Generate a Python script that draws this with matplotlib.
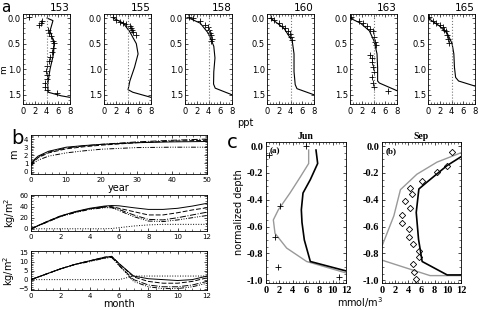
import matplotlib
matplotlib.use("Agg")
import matplotlib.pyplot as plt
from matplotlib.ticker import AutoMinorLocator

# ---- panel a: salinity profiles (ppt vs m) ----
days = ['153', '155', '158', '160', '163', '165']

line_depth = [
    [0, 0.05, 0.25, 0.5, 0.7, 1.0, 1.3, 1.45, 1.52, 1.55],
    [0, 0.1, 0.27, 0.5, 0.7, 0.96, 1.23, 1.4, 1.45, 1.55],
    [0, 0.1, 0.3, 0.55, 0.78, 1.05, 1.29, 1.37, 1.5],
    [0, 0.2, 0.45, 0.7, 1.05, 1.3, 1.38, 1.5],
    [0, 0.1, 0.25, 0.45, 0.7, 0.97, 1.23, 1.27, 1.42],
    [0, 0.15, 0.3, 0.5, 0.7, 0.96, 1.16, 1.23, 1.33],
]
line_sal = [
    [4.1, 5.1, 4.6, 5.3, 5.2, 4.6, 4.2, 4.3, 6.5, 8],
    [1.6, 3.3, 4.4, 5.5, 5.8, 5.2, 4.4, 4.1, 4.9, 8],
    [0.7, 2.6, 4.0, 4.9, 5.1, 4.9, 4.86, 5.14, 8],
    [0.6, 2.9, 4.3, 4.6, 4.6, 4.8, 5.1, 8],
    [0, 1.8, 3.3, 4.1, 4.6, 4.7, 4.7, 5.0, 8],
    [0, 1.9, 3.3, 4.1, 4.4, 4.5, 4.7, 5.2, 8],
]
obs_depth = [
    [-0.02, 0.13, 0.10, 0.05, 0.24, 0.30, 0.35, 0.44, 0.48, 0.59, 0.66, 0.76, 0.84,
     0.93, 1.04, 1.12, 1.19, 1.26, 1.34, 1.41, 1.47],
    [-0.02, 0.03, 0.07, 0.10, 0.11, 0.15, 0.20, 0.24, 0.28, 0.33],
    [-0.02, 0, 0.05, 0.13, 0.17, 0.23, 0.30, 0.33, 0.40, 0.44],
    [0, 0.03, 0.09, 0.15, 0.20, 0.26, 0.31, 0.36, 0.42],
    [-0.03, 0.05, 0.10, 0.15, 0.22, 0.26, 0.36, 0.46, 0.53, 0.73, 0.79, 0.86, 0.96,
     1.06, 1.16, 1.26, 1.35, 1.42],
    [-0.02, 0.05, 0.09, 0.13, 0.17, 0.23, 0.26, 0.33, 0.40, 0.48],
]
obs_sal = [
    [1.03, 2.74, 3.14, 3.31, 4.29, 4.46, 4.69, 5.14, 5.31, 5.14, 4.86, 4.57, 4.46,
     4.0, 3.89, 4.11, 4.0, 3.71, 3.71, 4.17, 5.71],
    [1.56, 2.1, 2.7, 3.2, 3.7, 4.4, 4.6, 4.8, 5.0, 5.5],
    [0.74, 1.43, 2.57, 3.43, 3.83, 4.17, 4.29, 4.46, 4.57, 4.46],
    [0.69, 1.26, 2.0, 2.57, 3.14, 3.54, 3.89, 4.11, 4.29],
    [0.1, 1.48, 2.25, 2.96, 3.43, 3.85, 4.0, 4.26, 4.44, 3.43, 3.73, 3.67, 3.85,
     4.0, 3.73, 3.85, 4.0, 6.5],
    [0.17, 0.83, 1.38, 2.04, 2.49, 2.76, 3.04, 3.15, 3.48, 3.59],
]
ref_sal = 4.0

# ---- panel b ----
years = [0, 1, 2, 5, 10, 15, 20, 25, 30, 40, 50]
thick_solid = [0.9, 1.5, 1.9, 2.5, 3.0, 3.2, 3.35, 3.45, 3.55, 3.65, 3.7]
thick_dash = [0.8, 1.3, 1.7, 2.3, 2.8, 3.05, 3.25, 3.4, 3.55, 3.75, 3.85]
thick_dashdot = [1.0, 1.4, 1.8, 2.4, 2.9, 3.15, 3.35, 3.5, 3.65, 3.85, 4.0]
thick_dash3dot = [0.7, 1.1, 1.4, 1.9, 2.3, 2.55, 2.75, 2.85, 2.95, 3.0, 3.0]

months = [0, 1, 2, 3, 4, 5, 5.5, 6, 7, 8, 9, 10, 11, 12]
mass_solid = [0, 12, 23, 31, 37, 41, 42, 41.5, 38, 35, 35, 37, 41, 46]
mass_dash = [0, 12, 23, 30, 36, 40, 40, 37, 31, 25, 25, 29, 34, 38]
mass_dashdot = [0, 11, 22, 30, 36, 39, 39, 35, 25, 17, 16, 20, 25, 30]
mass_dash3dot = [0, 11, 22, 29, 35, 38, 38, 33, 22, 14, 13, 16, 20, 24]
mass_dot = [0, 0, 0, 0, 0, 0, 0.5, 2, 5, 7, 8, 8, 8, 8]

flux_solid = [0, 3, 6, 8.5, 10.5, 12.5, 13, 9, 2, 0.5, 0, -0.5, 0, 2]
flux_dash = [0, 3, 6, 8.5, 10.5, 12.5, 13, 9, 1.5, -1, -2, -2, -1, 1]
flux_dashdot = [0, 3, 6, 8.5, 10.5, 12, 12.5, 8, 0, -3, -4, -4, -3, -1]
flux_dash3dot = [0, 3, 6, 8.5, 10, 12, 12.5, 8, -1, -4, -5, -5, -4, -2]
flux_dot = [0, 0, 0, 0, 0, 0, 0, 0, 2, 2, 2, 2, 2, 2]

# ---- panel c ----
jun_gray_x = [6.4, 6.4, 5.15, 3.6, 1.85, 1.1, 1.35, 3.1, 6.1, 12]
jun_gray_y = [-0.03, -0.13, -0.23, -0.35, -0.475, -0.55, -0.65, -0.76, -0.86, -0.945]
jun_black_x = [7.5, 7.75, 6.65, 5.55, 5.3, 5.4, 5.75, 6.65, 12]
jun_black_y = [-0.03, -0.13, -0.25, -0.35, -0.475, -0.57, -0.7, -0.86, -0.93]
jun_obs_x = [6.0, 0.5, 2.1, 1.35, 1.85, 10.9]
jun_obs_y = [0.0, -0.07, -0.445, -0.68, -0.9, -0.975]

sep_gray1_x = [12, 8.35, 5.3, 2.8, 1.8, 0]
sep_gray1_y = [-0.05, -0.12, -0.21, -0.325, -0.52, -0.745]
sep_gray2_x = [0, 7.3, 12]
sep_gray2_y = [-0.85, -0.965, -0.965]
sep_black_x = [12, 9.9, 6.8, 5.6, 5.2, 5.55, 6.1, 9.9, 12]
sep_black_y = [-0.08, -0.145, -0.27, -0.32, -0.495, -0.695, -0.86, -0.96, -0.96]
sep_obs_x = [10.6, 9.9, 8.35, 6.1, 4.3, 4.55, 3.5, 4.3, 3.05, 3.05, 4.05, 4.05, 4.7,
             5.55, 5.55, 4.7, 4.8, 5.2]
sep_obs_y = [-0.045, -0.15, -0.195, -0.26, -0.31, -0.36, -0.41, -0.465, -0.515, -0.57,
             -0.615, -0.675, -0.73, -0.78, -0.83, -0.88, -0.94, -0.99]

W, H = 478, 309
fig = plt.figure(figsize=(W / 100, H / 100), dpi=100)


def box(l, t, r, b):
    return [l / W, 1 - b / H, (r - l) / W, (b - t) / H]


def style(ax, size=6):
    ax.tick_params(which='both', direction='in', top=True, right=True, labelsize=size, pad=2)
    ax.tick_params(which='major', length=2.5, width=0.5)
    ax.tick_params(which='minor', length=1.2, width=0.4)
    ax.xaxis.set_minor_locator(AutoMinorLocator())
    ax.yaxis.set_minor_locator(AutoMinorLocator())
    for s in ax.spines.values():
        s.set_linewidth(0.6)


# panel a
lefts = [23, 104, 185, 267, 350, 428]
for i, l in enumerate(lefts):
    ax = fig.add_axes(box(l, 14, l + 47, 104))
    ax.plot(line_sal[i], line_depth[i], color='black', lw=0.8)
    ax.plot(obs_sal[i], obs_depth[i], '+', color='black', ms=4, mew=0.6)
    ax.axvline(ref_sal, color='#777777', ls=':', lw=0.8)
    ax.set_xlim(0, 8)
    ax.set_ylim(1.68, -0.08)
    ax.set_xticks([0, 2, 4, 6, 8])
    ax.set_yticks([0, 0.5, 1.0, 1.5])
    ax.set_yticklabels(['0.0', '0.5', '1.0', '1.5'])
    style(ax, 6)
    ax.tick_params(axis='y', pad=1.5)
    ax.xaxis.set_minor_locator(AutoMinorLocator(4))
    ax.set_title(days[i], loc='right', fontsize=7.5, pad=2)
fig.text(3.5 / W, 1 - 70 / H, 'm', fontsize=6.5, ha='center', va='center', rotation=90)
fig.text(245 / W, 1 - 123 / H, 'ppt', fontsize=7, ha='center', va='center')

# panel b
dash3 = (0, (5, 1.5, 1, 1.5, 1, 1.5, 1, 1.5))
ax = fig.add_axes(box(31, 135, 207, 174))
ax.plot(years, thick_solid, color='black', lw=0.7)
ax.plot(years, thick_dash, color='black', lw=0.7, ls=(0, (5, 2)))
ax.plot(years, thick_dashdot, color='black', lw=0.7, ls='-.')
ax.plot(years, thick_dash3dot, color='black', lw=0.7, ls=dash3)
ax.set_xlim(0, 50)
ax.set_ylim(-0.3, 4.5)
ax.set_yticks([0, 1, 2, 3, 4])
style(ax, 5)
ax.set_xlabel('year', fontsize=7, labelpad=0)
ax.set_ylabel('m', fontsize=7, labelpad=3)

ax = fig.add_axes(box(31, 195, 207, 231))
ax.plot(months, mass_solid, color='black', lw=0.7)
ax.plot(months, mass_dash, color='black', lw=0.7, ls=(0, (5, 2)))
ax.plot(months, mass_dashdot, color='black', lw=0.7, ls='-.')
ax.plot(months, mass_dash3dot, color='black', lw=0.7, ls=dash3)
ax.plot(months, mass_dot, color='black', lw=0.7, ls=':')
ax.set_xlim(0, 12)
ax.set_ylim(-4, 61)
ax.set_yticks([0, 20, 40, 60])
style(ax, 5)
ax.set_ylabel('kg/m$^2$', fontsize=7, labelpad=1)

ax = fig.add_axes(box(31, 251, 207, 290))
ax.plot(months, flux_solid, color='black', lw=0.7)
ax.plot(months, flux_dash, color='black', lw=0.7, ls=(0, (5, 2)))
ax.plot(months, flux_dashdot, color='black', lw=0.7, ls='-.')
ax.plot(months, flux_dash3dot, color='black', lw=0.7, ls=dash3)
ax.plot(months, flux_dot, color='black', lw=0.7, ls=':')
ax.set_xlim(0, 12)
ax.set_ylim(-5.8, 16)
ax.set_yticks([-5, 0, 5, 10, 15])
style(ax, 5)
ax.set_xlabel('month', fontsize=7, labelpad=0)
ax.set_ylabel('kg/m$^2$', fontsize=7, labelpad=1)

# panel c
serif = dict(family='Liberation Serif', weight='bold')
for j, (l, r) in enumerate([(266, 346), (382, 461)]):
    ax = fig.add_axes(box(l, 142, r, 283))
    if j == 0:
        ax.plot(jun_gray_x, jun_gray_y, color='#999999', lw=1.0)
        ax.plot(jun_black_x, jun_black_y, color='black', lw=1.2)
        ax.plot(jun_obs_x, jun_obs_y, '+', color='black', ms=4, mew=0.6)
        ax.set_title('Jun', fontsize=7, pad=2, **serif)
        ax.text(0.04, 0.96, '(a)', transform=ax.transAxes, fontsize=6.5, va='top', **serif)
        ax.set_ylabel('normalized depth', fontsize=7, labelpad=2)
    else:
        ax.plot(sep_gray1_x, sep_gray1_y, color='#999999', lw=1.0)
        ax.plot(sep_gray2_x, sep_gray2_y, color='#999999', lw=1.0)
        ax.plot(sep_black_x, sep_black_y, color='black', lw=1.2)
        ax.plot(sep_obs_x, sep_obs_y, 'D', mfc='none', mec='black', ms=3.2, mew=0.6)
        ax.set_title('Sep', fontsize=7, pad=2, **serif)
        ax.text(0.04, 0.96, '(b)', transform=ax.transAxes, fontsize=6.5, va='top', **serif)
    ax.set_xlim(0, 12)
    ax.set_ylim(-1.02, 0.03)
    ax.set_xticks([0, 2, 4, 6, 8, 10, 12])
    ax.set_yticks([0, -0.2, -0.4, -0.6, -0.8, -1.0])
    ax.set_yticklabels(['0.0', '-0.2', '-0.4', '-0.6', '-0.8', '-1.0'])
    style(ax, 7.5)
    ax.xaxis.set_minor_locator(AutoMinorLocator(4))
    ax.yaxis.set_minor_locator(AutoMinorLocator(4))
    for lab in ax.get_xticklabels() + ax.get_yticklabels():
        lab.set_fontfamily('Liberation Serif')
        lab.set_fontweight('bold')
fig.text(360 / W, 1 - 303 / H, 'mmol/m$^3$', fontsize=7, ha='center', va='center')

fig.text(1 / W, 1 - 0.5 / H, 'a', fontsize=11, ha='left', va='top')
fig.text(17 / W, 1 - 139 / H, 'b', fontsize=14, ha='center', va='center')
fig.text(232 / W, 1 - 143 / H, 'c', fontsize=14, ha='center', va='center')

fig.savefig('out.png', dpi=100)
